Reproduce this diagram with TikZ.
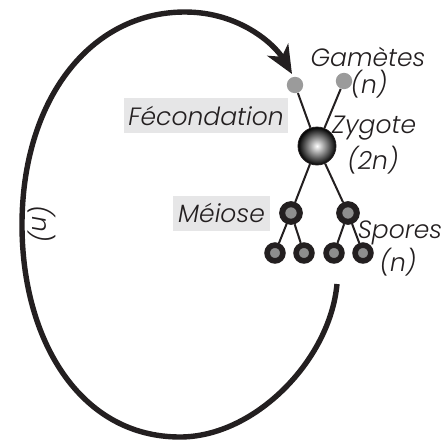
\documentclass[tikz,border=0pt]{standalone}
\usepackage{fontspec}
\setmainfont{Poppins}[UprightFont=*-Light, ItalicFont=*-LightItalic]
\usepackage{xcolor}
\usepackage{tikz}
\usetikzlibrary{arrows.meta,positioning}

\definecolor{ink}{HTML}{231F20}
\definecolor{tagfill}{HTML}{E6E6E7}
\definecolor{gamgray}{HTML}{9B9B9B}
\definecolor{cellgray}{HTML}{8E8E8E}

\begin{document}
\begin{tikzpicture}[
    x=0.5pt, y=-0.5pt,
    txt/.style={font=\itshape\fontsize{12.5}{14}\selectfont, text=ink, inner sep=0pt},
    labelbox/.style={txt, fill=tagfill, minimum width=#1, minimum height=17.5pt},
    gamete/.style={circle, fill=gamgray, minimum size=8.2pt, inner sep=0pt},
    zygote/.style={circle, draw=ink, inner color=white, outer color=black, minimum size=19pt, inner sep=0pt},
    cell/.style={circle, draw=ink, line width=3pt, fill=cellgray, minimum size=8.8pt, inner sep=0pt},
    spore/.style={cell, line width=2.8pt, minimum size=7.9pt},
    link/.style={draw=ink, line width=1pt},
    loopline/.style={draw=ink, line width=2.7pt, -{Stealth[length=14pt, width=12pt, inset=4pt]}}
]
\useasboundingbox (0,0) rectangle (446,440);

\node[gamete] (gam1) at (295,85) {};
\node[gamete] (gam2) at (344,81) {};
\node[zygote] (zyg) at (317,146) {};
\node[cell] (mei1) at (291,213) {};
\node[cell] (mei2) at (348,213) {};
\node[spore] (spo1) at (275,253) {};
\node[spore] (spo2) at (304,253) {};
\node[spore] (spo3) at (334,253) {};
\node[spore] (spo4) at (363,253) {};

\draw[link] (gam1) -- (zyg);
\draw[link] (gam2) -- (zyg);
\draw[link] (zyg) -- (mei1);
\draw[link] (zyg) -- (mei2);
\draw[link] (mei1) -- (spo1);
\draw[link] (mei1) -- (spo2);
\draw[link] (mei2) -- (spo3);
\draw[link] (mei2) -- (spo4);

\node[labelbox=82pt] (fecond) at (206,115.5) {Fécondation};
\node[labelbox=48.5pt] (meiose) at (221.5,213) {Méiose};
\node[txt] (gamtxt) at (368,57) {Gamètes};
\node[txt] (gamn) at (369,84) {(n)};
\node[txt] (zygtxt) at (374,128) {Zygote};
\node[txt] (zygn) at (373,160) {(2n)};
\node[txt] (spotxt) at (400,233) {Spores};
\node[txt] (spon) at (398,262) {(n)};
\node[txt, rotate=-90] (loopn) at (42,224) {(n)};

% cycle haploide
\coordinate (loopstart) at (337,284);
\coordinate (loopend) at (292,74);
\draw[loopline] (loopstart) .. controls (330,360) and (255,437) .. (180,437)
  .. controls (80,437) and (22,340) .. (22,225)
  .. controls (22,100) and (90,12) .. (185,12)
  .. controls (240,12) and (275,45) .. (loopend);

\end{tikzpicture}
\end{document}
